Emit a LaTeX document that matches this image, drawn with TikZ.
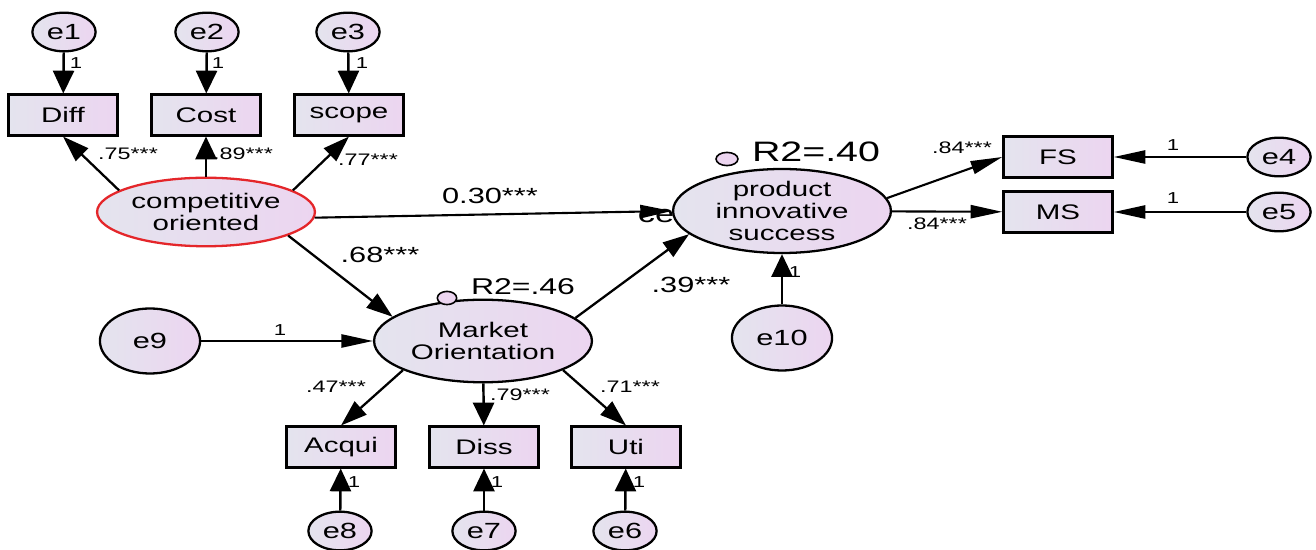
\documentclass[tikz,border=0pt]{standalone}
\usepackage{fontspec}
\setmainfont{Liberation Sans}[FakeStretch=1.4]
\usetikzlibrary{arrows.meta,shapes.geometric}
\definecolor{semleft}{HTML}{E4E4EE}
\definecolor{semright}{HTML}{ECD5F0}
\definecolor{semred}{HTML}{E4262A}

\tikzset{
  obsbox/.style={draw,line width=1.5pt,left color=semleft,right color=semright,
    minimum width=62pt,minimum height=23pt,inner sep=0pt,font=\fontsize{12}{14}\selectfont},
  errsm/.style={ellipse,draw,line width=1.3pt,left color=semleft,right color=semright,
    minimum width=36pt,minimum height=22pt,inner sep=0pt,font=\fontsize{12.5}{14}\selectfont},
  errlg/.style={errsm,minimum width=57pt,minimum height=37pt},
  latent/.style={ellipse,draw,line width=1.3pt,left color=semleft,right color=semright,
    minimum width=124pt,minimum height=47pt,inner sep=0pt,align=center,
    font=\fontsize{12}{12.5}\selectfont},
  rdot/.style={ellipse,draw,line width=0.9pt,fill=semright,minimum width=11pt,
    minimum height=7.5pt,inner sep=0pt},
  coef/.style={font=\fontsize{9.5}{10}\selectfont},
  bigcoef/.style={font=\fontsize{12.5}{13}\selectfont},
  one/.style={font=\fontsize{9}{10}\selectfont},
  arv/.style={line width=1.4pt,-{Triangle[length=13pt,width=12pt]}},
  arh/.style={line width=1.2pt,-{Triangle[length=18pt,width=7.5pt]}},
  ard/.style={line width=1.3pt,-{Triangle[length=15pt,width=10pt]}},
}

\begin{document}
\begin{tikzpicture}[x=0.02cm,y=-0.02cm]
  \useasboundingbox (0,0) rectangle (1316,550);

  % --- competitive orientation block ---
  \node[errsm] (e1) at (64,32) {e1};
  \node[errsm] (e2) at (207,32) {e2};
  \node[errsm] (e3) at (348,32) {e3};
  \node[obsbox] (diff) at (63,115) {Diff};
  \node[obsbox] (cost) at (206,115) {Cost};
  \node[obsbox] (scope) at (349,115) {scope};
  \node[latent,draw=semred,minimum height=39pt] (comp) at (206,212)
        {competitive\\oriented};

  % --- hidden text behind outcome ---
  \node[font=\fontsize{14}{15}\selectfont] (cetxt) at (656,216) {ce};

  % --- outcome block ---
  \node[latent] (pis) at (782,211) {product\\innovative\\success};
  \node[rdot,minimum width=12.5pt] (dotpis) at (727,159) {};
  \node[font=\fontsize{16}{17}\selectfont] (r2pis) at (816,152) {R2=.40};
  \node[obsbox] (fs) at (1058,157) {FS};
  \node[obsbox] (ms) at (1058,212) {MS};
  \node[errsm] (e4) at (1279,157) {e4};
  \node[errsm] (e5) at (1279,212) {e5};
  \node[errlg] (e10) at (782,338) {e10};

  % --- market orientation block ---
  \node[latent] (mo) at (483,341) {Market\\Orientation};
  \node[rdot] (dotmo) at (447,298) {};
  \node[font=\fontsize{13}{14}\selectfont] (r2mo) at (523,287) {R2=.46};
  \node[errlg] (e9) at (150,341) {e9};
  \node[obsbox] (acqui) at (341,447) {Acqui};
  \node[obsbox] (diss) at (484,447) {Diss};
  \node[obsbox] (uti) at (626,447) {Uti};
  \node[errsm] (e8) at (340,531) {e8};
  \node[errsm] (e7) at (484,531) {e7};
  \node[errsm] (e6) at (625,531) {e6};

  % --- paths ---
  \draw[arv] (e1) -- (diff);
  \draw[arv] (e2) -- (cost);
  \draw[arv] (e3) -- (scope);
  \draw[ard] (comp.166) -- (diff.south);
  \draw[arv] (comp) -- (cost);
  \draw[ard] (comp.14) -- (scope.south);
  \draw[arh] (comp.-3) -- (pis.west);
  \draw[ard] (comp.-16) -- (mo.165);
  \draw[ard] (mo.14.5) -- (pis.194.6);
  \draw[arh] (e9) -- (mo);
  \draw[arv] (e10) -- (pis);
  \draw[ard] (mo.200) -- (acqui.north);
  \draw[arv] (mo) -- (diss);
  \draw[ard] (mo.-20) -- (uti.north);
  \draw[arv] (e8) -- (acqui);
  \draw[arv] (e7) -- (diss);
  \draw[arv] (e6) -- (uti);
  \draw[arh] (pis.7.6) -- (fs.west);
  \draw[arh] (pis) -- (ms);
  \draw[arh] (e4) -- (fs);
  \draw[arh] (e5) -- (ms);

  % --- estimates ---
  \node[coef] (c1) at (128,154) {.75***};
  \node[coef] (c2) at (243,154) {.89***};
  \node[coef] (c3) at (368,160) {.77***};
  \node[coef] (c4) at (962,148) {.84***};
  \node[coef] (c5) at (937,224) {.84***};
  \node[coef] (c6) at (336,387) {.47***};
  \node[coef] (c7) at (520,395) {.79***};
  \node[coef] (c8) at (630,387) {.71***};
  \node[bigcoef] (c9) at (490,196) {0.30***};
  \node[bigcoef] (c10) at (380,255) {.68***};
  \node[bigcoef] (c11) at (691,285) {.39***};

  % --- fixed loadings ---
  \node[one] (o1) at (76,63) {1};
  \node[one] (o2) at (218,63) {1};
  \node[one] (o3) at (362,63) {1};
  \node[one] (o4) at (280,330) {1};
  \node[one] (o5) at (795,272) {1};
  \node[one] (o6) at (354,482) {1};
  \node[one] (o7) at (497,482) {1};
  \node[one] (o8) at (639,482) {1};
  \node[one] (o9) at (1173,145) {1};
  \node[one] (o10) at (1173,198) {1};

\end{tikzpicture}
\end{document}
